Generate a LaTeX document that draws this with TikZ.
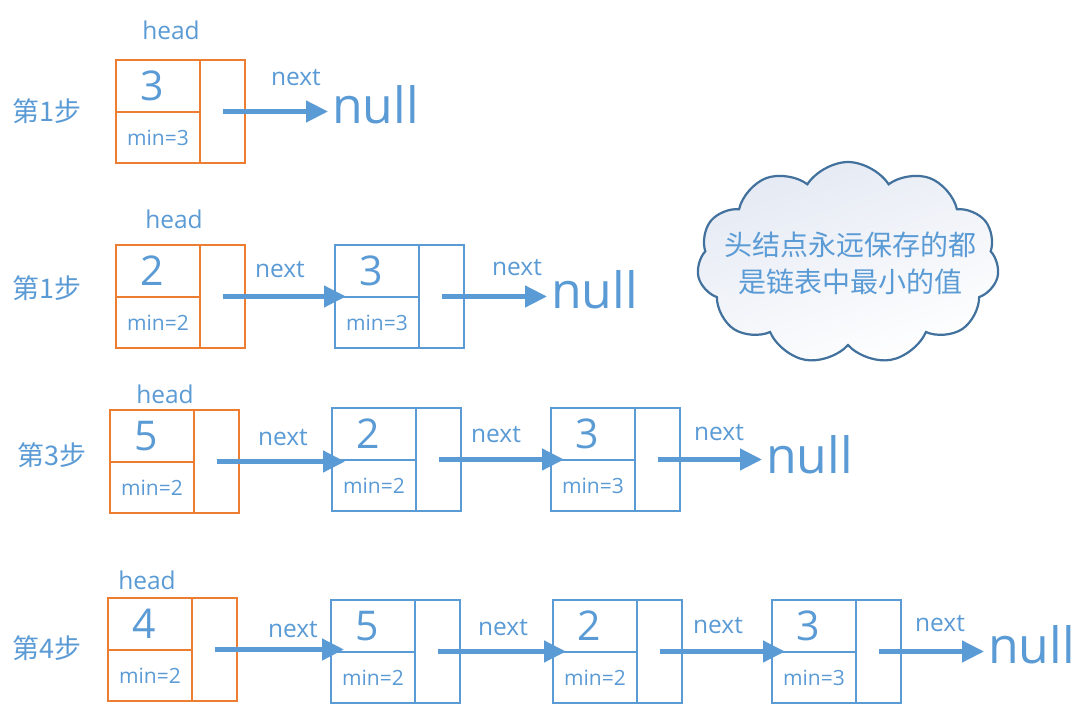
\documentclass[tikz,border=0pt]{standalone}
\usepackage{fontspec}
\setmainfont{Open Sans}
\newfontfamily\cjk{Noto Sans CJK SC}
\usetikzlibrary{arrows.meta,shapes.symbols,calc}
\definecolor{ora}{HTML}{ED7D31}
\definecolor{blu}{HTML}{5B9BD5}
\definecolor{cloudline}{HTML}{41719C}
\definecolor{cloudfill}{HTML}{E4E9F3}
\tikzset{
  cell/.style={draw, line width=2.3, inner sep=0, outer sep=0, text=blu, anchor=north west},
  valtxt/.style={text=blu, inner sep=0, font=\fontsize{41}{46}\selectfont},
  headtxt/.style={text=blu, inner sep=0, font=\fontsize{24.5}{28}\selectfont},
  nexttxt/.style={text=blu, inner sep=0, font=\fontsize{24.5}{28}\selectfont},
  nulltxt/.style={text=blu, inner sep=0, anchor=west, font=\fontsize{50}{56}\selectfont},
  steptxt/.style={text=blu, inner sep=0, font=\cjk\fontsize{27}{30}\selectfont},
  arr/.style={draw=blu, line width=4.5, -{Triangle[length=22pt,width=21pt,fill=blu]}},
}
\newcommand\listnode[6]{%
  \node[cell, draw=#6, minimum width=84, minimum height=52] (#1v) at (#2,#3) {};
  \node[cell, draw=#6, minimum width=84, minimum height=51] (#1m) at (#1v.south west) {\fontsize{21}{24}\selectfont min=#5};
  \node[cell, draw=#6, minimum width=45, minimum height=103] (#1p) at (#1v.north east) {};
  \node[valtxt] (#1t) at ([xshift=36]#1v.west) {#4};
}
\begin{document}
\begin{tikzpicture}[x=1pt,y=-1pt]
\useasboundingbox[fill=white] (0,0) rectangle (1080,714);

% cloud
\node[cloud, cloud puffs=11, cloud puff arc=115, aspect=1.5, minimum width=302, minimum height=202,
      draw=cloudline, line width=2.2, top color=cloudfill, bottom color=white, shading angle=20] (cl) at (848,263) {};
\node[text=blu, align=center, inner sep=0, font=\cjk\fontsize{28}{37}\selectfont] (clt) at (850,263)
  {头结点永远保存的都\\是链表中最小的值};

% row 1
\node[steptxt] (s1) at (47,111) {第1步};
\node[headtxt] (h1) at (171,30) {head};
\listnode{a}{116}{60}{3}{3}{ora}
\node[nulltxt] (n1) at (332,105) {null};
\node[nexttxt] (x1a) at (296,78) {next};
\draw[arr] (ap.center) -- ($(ap.center -| n1.west)+(-4,0)$);

% row 2
\node[steptxt] (s2) at (47,288) {第1步};
\node[headtxt] (h2) at (174,219) {head};
\listnode{b}{116}{245}{2}{2}{ora}
\listnode{c}{335}{245}{3}{3}{blu}
\node[nulltxt] (n2) at (551,290) {null};
\node[nexttxt] (x2a) at (280,270) {next};
\node[nexttxt] (x2b) at (517,268) {next};
\draw[arr] (bp.center) -- ($(bp.center -| cv.west)+(11,0)$);
\draw[arr] (cp.center) -- ($(cp.center -| n2.west)+(-4,0)$);

% row 3
\node[steptxt] (s3) at (52,455) {第3步};
\node[headtxt] (h3) at (165,394) {head};
\listnode{d}{110}{410}{5}{2}{ora}
\listnode{e}{332}{408}{2}{2}{blu}
\listnode{f}{551}{408}{3}{3}{blu}
\node[nulltxt] (n3) at (766,455) {null};
\node[nexttxt] (x3a) at (283,438) {next};
\node[nexttxt] (x3b) at (496,435) {next};
\node[nexttxt] (x3c) at (719,433) {next};
\draw[arr] (dp.center) -- ($(dp.center -| ev.west)+(13,0)$);
\draw[arr] (ep.center) -- ($(ep.center -| fv.west)+(13,0)$);
\draw[arr] (fp.center) -- ($(fp.center -| n3.west)+(-4,0)$);

% row 4
\node[steptxt] (s4) at (47,648) {第4步};
\node[headtxt] (h4) at (147,580) {head};
\listnode{g}{108}{598}{4}{2}{ora}
\listnode{h}{331}{600}{5}{2}{blu}
\listnode{i}{553}{600}{2}{2}{blu}
\listnode{j}{772}{600}{3}{3}{blu}
\node[nulltxt] (n4) at (988,645) {null};
\node[nexttxt] (x4a) at (293,630) {next};
\node[nexttxt] (x4b) at (503,628) {next};
\node[nexttxt] (x4c) at (718,626) {next};
\node[nexttxt] (x4d) at (940,624) {next};
\draw[arr] (gp.center) -- ($(gp.center -| hv.west)+(13,0)$);
\draw[arr] (hp.center) -- ($(hp.center -| iv.west)+(13,0)$);
\draw[arr] (ip.center) -- ($(ip.center -| jv.west)+(13,0)$);
\draw[arr] (jp.center) -- ($(jp.center -| n4.west)+(-4,0)$);
\end{tikzpicture}
\end{document}
